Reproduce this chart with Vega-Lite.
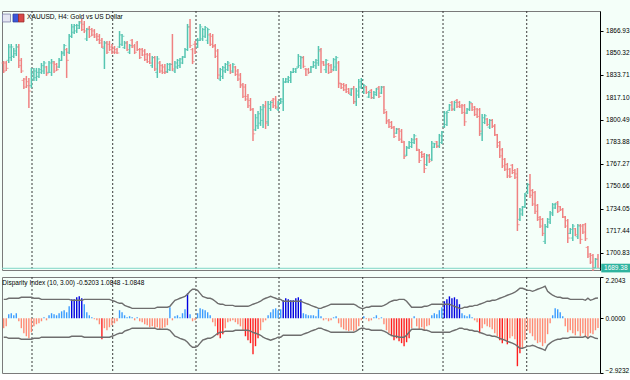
{
"$schema":"https://vega.github.io/schema/vega-lite/v6.json",
"padding":{"top":10,"left":0,"right":0,"bottom":0},
"background":"#F4FFF9",
"spacing":7,
"bounds":"flush",
"config":{"view":{"stroke":"#7a7a7a","strokeWidth":1,"fill":"#F4FFF9"},"font":"Liberation Sans","axis":{"labelOverlap":false}},
"datasets":{
"seps":[{"s":11.24},{"s":43.29},{"s":76.37},{"s":109.33},{"s":142.57},{"s":174.46},{"s":207.7}],
"ticks":[{"p":1866.93},{"p":1850.32},{"p":1833.71},{"p":1817.1},{"p":1800.49},{"p":1783.88},{"p":1767.27},{"p":1750.66},{"p":1734.05},{"p":1717.44},{"p":1700.83}],
"b":[
{"i":0,"o":1843,"h":1844.5,"l":1835.5,"c":1837,"v":-0.53,"u":1.01,"d":-1.01},
{"i":1,"o":1843,"h":1844.5,"l":1837,"c":1839,"v":-0.43,"u":1.01,"d":-1.01},
{"i":2,"o":1845,"h":1857.2,"l":1843,"c":1855,"v":0.21,"u":1.07,"d":-1.07},
{"i":3,"o":1847,"h":1857.2,"l":1844.5,"c":1855,"v":0.27,"u":1.07,"d":-1.07},
{"i":4,"o":1848,"h":1854.2,"l":1846.7,"c":1852,"v":0.16,"u":1.07,"d":-1.07},
{"i":5,"o":1850,"h":1857.2,"l":1848.2,"c":1855,"v":0.27,"u":1.07,"d":-1.07},
{"i":6,"o":1855,"h":1857.2,"l":1839.3,"c":1841,"v":-0.16,"u":1.07,"d":-1.07},
{"i":7,"o":1845,"h":1846.7,"l":1835.5,"c":1837,"v":-0.53,"u":1.12,"d":-1.12},
{"i":8,"o":1830,"h":1831.8,"l":1823.5,"c":1825,"v":-0.8,"u":1.12,"d":-1.12},
{"i":9,"o":1831,"h":1833.3,"l":1824.3,"c":1826,"v":-0.96,"u":1.12,"d":-1.12},
{"i":10,"o":1829,"h":1831.8,"l":1809.3,"c":1822,"v":-1.07,"u":1.12,"d":-1.12},
{"i":11,"o":1826,"h":1839.3,"l":1824.3,"c":1835,"v":-0.75,"u":1.12,"d":-1.12},
{"i":12,"o":1831,"h":1839.3,"l":1829.5,"c":1837,"v":-0.43,"u":1.07,"d":-1.07},
{"i":13,"o":1832,"h":1839.3,"l":1829.5,"c":1836,"v":-0.32,"u":1.07,"d":-1.07},
{"i":14,"o":1833,"h":1839.3,"l":1831.8,"c":1838,"v":-0.27,"u":1.07,"d":-1.07},
{"i":15,"o":1836,"h":1843,"l":1834.8,"c":1841,"v":-0.16,"u":1.01,"d":-1.01},
{"i":16,"o":1837,"h":1844.5,"l":1834.8,"c":1843,"v":0.05,"u":1.01,"d":-1.01},
{"i":17,"o":1840,"h":1840.8,"l":1833.3,"c":1835,"v":-0.11,"u":1.01,"d":-1.01},
{"i":18,"o":1836,"h":1844.5,"l":1835.5,"c":1843,"v":0.16,"u":1.01,"d":-1.01},
{"i":19,"o":1836,"h":1846,"l":1833.3,"c":1844,"v":0.27,"u":1.01,"d":-1.01},
{"i":20,"o":1843,"h":1844.5,"l":1835.5,"c":1837,"v":0.21,"u":1.01,"d":-1.01},
{"i":21,"o":1842,"h":1843,"l":1837,"c":1838,"v":0.16,"u":1.01,"d":-1.01},
{"i":22,"o":1840,"h":1846.7,"l":1839.3,"c":1845,"v":0.27,"u":1.01,"d":-1.01},
{"i":23,"o":1845,"h":1852,"l":1844.5,"c":1851,"v":0.37,"u":1.01,"d":-1.01},
{"i":24,"o":1850,"h":1857.2,"l":1848.2,"c":1856,"v":0.43,"u":1.01,"d":-1.01},
{"i":25,"o":1853,"h":1854.2,"l":1831.8,"c":1845,"v":0.32,"u":1.01,"d":-1.01},
{"i":26,"o":1851,"h":1864.7,"l":1849.7,"c":1863,"v":0.64,"u":1.01,"d":-1.01},
{"i":27,"o":1863,"h":1872.2,"l":1861.7,"c":1870,"v":1.01,"u":0.96,"d":-0.96},
{"i":28,"o":1866,"h":1872.2,"l":1864.7,"c":1871,"v":1.01,"u":0.96,"d":-0.96},
{"i":29,"o":1867,"h":1872.2,"l":1865.4,"c":1871,"v":1.12,"u":0.96,"d":-0.96},
{"i":30,"o":1869,"h":1874.4,"l":1868.4,"c":1873,"v":1.17,"u":0.96,"d":-0.96},
{"i":31,"o":1874,"h":1875.9,"l":1866.9,"c":1868,"v":1.07,"u":0.96,"d":-0.96},
{"i":32,"o":1872,"h":1874.4,"l":1865.4,"c":1867,"v":0.75,"u":1.01,"d":-1.01},
{"i":33,"o":1861,"h":1869.2,"l":1859.5,"c":1868,"v":0.32,"u":1.01,"d":-1.01},
{"i":34,"o":1869,"h":1870.7,"l":1861.7,"c":1863,"v":0.16,"u":1.01,"d":-1.01},
{"i":35,"o":1868,"h":1869.2,"l":1863.2,"c":1864,"v":0.05,"u":1.01,"d":-1.01},
{"i":36,"o":1867,"h":1868.4,"l":1861.7,"c":1862.5,"v":-0.05,"u":1.01,"d":-1.01},
{"i":37,"o":1864,"h":1865.4,"l":1859.5,"c":1860.5,"v":-0.11,"u":1.01,"d":-1.01},
{"i":38,"o":1863,"h":1864.7,"l":1857.2,"c":1858,"v":-0.32,"u":1.01,"d":-1.01},
{"i":39,"o":1860,"h":1861.7,"l":1854.2,"c":1855,"v":-1.12,"u":1.01,"d":-1.01},
{"i":40,"o":1854,"h":1859.5,"l":1838.5,"c":1858,"v":-0.53,"u":1.01,"d":-1.01},
{"i":41,"o":1858,"h":1859.5,"l":1849.7,"c":1851,"v":-0.64,"u":1.01,"d":-1.01},
{"i":42,"o":1857,"h":1859.5,"l":1852,"c":1853,"v":-0.48,"u":1.01,"d":-1.01},
{"i":43,"o":1855,"h":1857.2,"l":1849.7,"c":1851,"v":-0.37,"u":0.96,"d":-0.96},
{"i":44,"o":1854,"h":1855.7,"l":1849.7,"c":1851,"v":-0.27,"u":0.91,"d":-0.91},
{"i":45,"o":1853,"h":1854.2,"l":1849.7,"c":1850.5,"v":-0.16,"u":0.85,"d":-0.85},
{"i":46,"o":1855,"h":1866.9,"l":1854.2,"c":1864,"v":0.43,"u":0.8,"d":-0.8},
{"i":47,"o":1857,"h":1864.7,"l":1855.7,"c":1863,"v":0.32,"u":0.8,"d":-0.8},
{"i":48,"o":1854.5,"h":1859.5,"l":1853.5,"c":1858,"v":0.16,"u":0.69,"d":-0.69},
{"i":49,"o":1858,"h":1859.5,"l":1852,"c":1853,"v":0.05,"u":0.64,"d":-0.64},
{"i":50,"o":1851,"h":1857.2,"l":1849.7,"c":1856,"v":0.11,"u":0.59,"d":-0.59},
{"i":51,"o":1860,"h":1861,"l":1854.2,"c":1855,"v":0.05,"u":0.53,"d":-0.53},
{"i":52,"o":1856,"h":1857.2,"l":1849.7,"c":1851,"v":-0.11,"u":0.53,"d":-0.53},
{"i":53,"o":1858,"h":1859.5,"l":1852,"c":1853,"v":0.05,"u":0.53,"d":-0.53},
{"i":54,"o":1853,"h":1854.2,"l":1846,"c":1847,"v":-0.16,"u":0.53,"d":-0.53},
{"i":55,"o":1853,"h":1854.2,"l":1848.2,"c":1849,"v":-0.21,"u":0.53,"d":-0.53},
{"i":56,"o":1852,"h":1853.5,"l":1844.5,"c":1845.5,"v":-0.32,"u":0.53,"d":-0.53},
{"i":57,"o":1849.5,"h":1850.5,"l":1843,"c":1844,"v":-0.37,"u":0.53,"d":-0.53},
{"i":58,"o":1849,"h":1850.5,"l":1842.2,"c":1843,"v":-0.48,"u":0.53,"d":-0.53},
{"i":59,"o":1841,"h":1848.2,"l":1839.3,"c":1847,"v":-0.43,"u":0.53,"d":-0.53},
{"i":60,"o":1847,"h":1848.2,"l":1837,"c":1838.5,"v":-0.53,"u":0.53,"d":-0.53},
{"i":61,"o":1836,"h":1848.2,"l":1831.8,"c":1846,"v":-0.48,"u":0.59,"d":-0.59},
{"i":62,"o":1843,"h":1844.5,"l":1835.5,"c":1837,"v":-0.59,"u":0.59,"d":-0.59},
{"i":63,"o":1841,"h":1842.2,"l":1834.8,"c":1836,"v":-0.53,"u":0.59,"d":-0.59},
{"i":64,"o":1840,"h":1842.2,"l":1834.8,"c":1836,"v":-0.48,"u":0.59,"d":-0.59},
{"i":65,"o":1836.5,"h":1843,"l":1835.5,"c":1842,"v":-0.37,"u":0.59,"d":-0.59},
{"i":66,"o":1838,"h":1843,"l":1837,"c":1842,"v":0.59,"u":0.64,"d":-0.64},
{"i":67,"o":1842,"h":1864.7,"l":1837,"c":1838.5,"v":-0.11,"u":0.8,"d":-0.8},
{"i":68,"o":1837,"h":1844.5,"l":1835.5,"c":1843,"v":0.11,"u":0.96,"d":-0.96},
{"i":69,"o":1840,"h":1846,"l":1838.5,"c":1845,"v":0.16,"u":1.01,"d":-1.01},
{"i":70,"o":1841,"h":1846.7,"l":1839.3,"c":1846,"v":0.05,"u":1.07,"d":-1.07},
{"i":71,"o":1843,"h":1848.2,"l":1842.2,"c":1847.5,"v":0.27,"u":1.12,"d":-1.12},
{"i":72,"o":1847.5,"h":1854.2,"l":1846.7,"c":1853,"v":0.48,"u":1.17,"d":-1.17},
{"i":73,"o":1853,"h":1872.2,"l":1852,"c":1870,"v":1.33,"u":1.28,"d":-1.28},
{"i":74,"o":1870,"h":1875.9,"l":1854.2,"c":1856,"v":0.21,"u":1.44,"d":-1.44},
{"i":75,"o":1853,"h":1854.2,"l":1842.2,"c":1844,"v":-0.16,"u":1.55,"d":-1.55},
{"i":76,"o":1857,"h":1859.5,"l":1849.7,"c":1851,"v":-0.11,"u":1.55,"d":-1.55},
{"i":77,"o":1855,"h":1861.7,"l":1854.2,"c":1860,"v":0.27,"u":1.49,"d":-1.49},
{"i":78,"o":1860,"h":1872.2,"l":1859.5,"c":1870,"v":0.53,"u":1.33,"d":-1.33},
{"i":79,"o":1861,"h":1869.2,"l":1859.5,"c":1868,"v":0.48,"u":1.17,"d":-1.17},
{"i":80,"o":1863,"h":1870.7,"l":1861.7,"c":1869.5,"v":0.43,"u":1.12,"d":-1.12},
{"i":81,"o":1860,"h":1869.2,"l":1857.2,"c":1868,"v":0.32,"u":1.07,"d":-1.07},
{"i":82,"o":1864,"h":1865.4,"l":1855.7,"c":1857,"v":0.16,"u":1.07,"d":-1.07},
{"i":83,"o":1863,"h":1864.7,"l":1854.2,"c":1855.5,"v":-0.21,"u":1.01,"d":-1.01},
{"i":84,"o":1856,"h":1857.2,"l":1846.7,"c":1848,"v":-0.43,"u":0.91,"d":-0.91},
{"i":85,"o":1852,"h":1853.5,"l":1831,"c":1834,"v":-0.91,"u":0.8,"d":-0.8},
{"i":86,"o":1831,"h":1839.3,"l":1829.5,"c":1838,"v":-1.07,"u":0.75,"d":-0.75},
{"i":87,"o":1833,"h":1840.8,"l":1831,"c":1839.5,"v":-0.85,"u":0.75,"d":-0.75},
{"i":88,"o":1837,"h":1843,"l":1835.5,"c":1842,"v":-0.53,"u":0.69,"d":-0.69},
{"i":89,"o":1838,"h":1844.5,"l":1837,"c":1843,"v":-0.21,"u":0.69,"d":-0.69},
{"i":90,"o":1841,"h":1842.2,"l":1834.8,"c":1836,"v":-0.16,"u":0.69,"d":-0.69},
{"i":91,"o":1837,"h":1843,"l":1835.5,"c":1842,"v":-0.11,"u":0.69,"d":-0.69},
{"i":92,"o":1840,"h":1840.8,"l":1833.3,"c":1834.5,"v":-0.21,"u":0.64,"d":-0.64},
{"i":93,"o":1837,"h":1838.5,"l":1829.5,"c":1831,"v":-0.32,"u":0.64,"d":-0.64},
{"i":94,"o":1834,"h":1835.5,"l":1824.3,"c":1826,"v":-0.43,"u":0.64,"d":-0.64},
{"i":95,"o":1827,"h":1828,"l":1816.8,"c":1818,"v":-0.64,"u":0.64,"d":-0.64},
{"i":96,"o":1825,"h":1827.3,"l":1814.6,"c":1816,"v":-0.96,"u":0.64,"d":-0.64},
{"i":97,"o":1818,"h":1819.8,"l":1809.3,"c":1811,"v":-1.17,"u":0.64,"d":-0.64},
{"i":98,"o":1815,"h":1816.8,"l":1807.1,"c":1808.5,"v":-1.33,"u":0.69,"d":-0.69},
{"i":99,"o":1808,"h":1809.3,"l":1784.6,"c":1790,"v":-1.92,"u":0.75,"d":-0.75},
{"i":100,"o":1793,"h":1804.8,"l":1792.1,"c":1802,"v":-1.49,"u":0.8,"d":-0.8},
{"i":101,"o":1796,"h":1807.1,"l":1793.6,"c":1805,"v":-1.07,"u":0.85,"d":-0.85},
{"i":102,"o":1798,"h":1810.8,"l":1795.9,"c":1808,"v":-0.64,"u":0.91,"d":-0.91},
{"i":103,"o":1800,"h":1812.3,"l":1794.4,"c":1810,"v":-0.21,"u":1.01,"d":-1.01},
{"i":104,"o":1811,"h":1814.6,"l":1793.6,"c":1798,"v":-0.11,"u":1.07,"d":-1.07},
{"i":105,"o":1799,"h":1814.6,"l":1795.9,"c":1812,"v":0.16,"u":1.12,"d":-1.12},
{"i":106,"o":1809,"h":1814.6,"l":1807.1,"c":1813.5,"v":0.32,"u":1.17,"d":-1.17},
{"i":107,"o":1815,"h":1816.8,"l":1809.3,"c":1811,"v":0.48,"u":1.12,"d":-1.12},
{"i":108,"o":1816,"h":1818.3,"l":1808.6,"c":1810,"v":0.53,"u":1.07,"d":-1.07},
{"i":109,"o":1808.5,"h":1814.6,"l":1807.1,"c":1813,"v":0.43,"u":1.01,"d":-1.01},
{"i":110,"o":1813,"h":1816.8,"l":1812.3,"c":1816,"v":0.48,"u":1.01,"d":-1.01},
{"i":111,"o":1814,"h":1831.8,"l":1807.1,"c":1829,"v":0.96,"u":0.91,"d":-0.91},
{"i":112,"o":1828.5,"h":1831.8,"l":1828,"c":1831,"v":1.07,"u":0.91,"d":-0.91},
{"i":113,"o":1829,"h":1833.3,"l":1828,"c":1832,"v":1.01,"u":0.91,"d":-0.91},
{"i":114,"o":1830,"h":1837,"l":1828,"c":1836,"v":0.96,"u":0.91,"d":-0.91},
{"i":115,"o":1836,"h":1839.3,"l":1835.5,"c":1838.5,"v":0.96,"u":0.91,"d":-0.91},
{"i":116,"o":1836.5,"h":1839.3,"l":1835.5,"c":1839,"v":1.07,"u":0.91,"d":-0.91},
{"i":117,"o":1840,"h":1849.7,"l":1839.3,"c":1848,"v":1.12,"u":0.91,"d":-0.91},
{"i":118,"o":1841,"h":1848.2,"l":1838.5,"c":1847,"v":1.01,"u":0.91,"d":-0.91},
{"i":119,"o":1847,"h":1848.2,"l":1839.3,"c":1840.5,"v":0.27,"u":0.85,"d":-0.85},
{"i":120,"o":1838.5,"h":1839.3,"l":1833.3,"c":1834,"v":0.21,"u":0.8,"d":-0.8},
{"i":121,"o":1838,"h":1839.3,"l":1834.8,"c":1836,"v":0.16,"u":0.75,"d":-0.75},
{"i":122,"o":1836,"h":1840.8,"l":1835.5,"c":1840,"v":0.16,"u":0.69,"d":-0.69},
{"i":123,"o":1840,"h":1844.5,"l":1839.3,"c":1843.5,"v":0.16,"u":0.64,"d":-0.64},
{"i":124,"o":1841,"h":1846,"l":1838.5,"c":1845,"v":0.11,"u":0.59,"d":-0.59},
{"i":125,"o":1843,"h":1855.7,"l":1840.8,"c":1853,"v":0.48,"u":0.53,"d":-0.53},
{"i":126,"o":1852,"h":1854.2,"l":1835.5,"c":1843,"v":0.11,"u":0.53,"d":-0.53},
{"i":127,"o":1844,"h":1844.5,"l":1840.8,"c":1841.5,"v":-0.11,"u":0.59,"d":-0.59},
{"i":128,"o":1838,"h":1846,"l":1835.5,"c":1845,"v":-0.05,"u":0.64,"d":-0.64},
{"i":129,"o":1842,"h":1843,"l":1834.8,"c":1836,"v":-0.16,"u":0.69,"d":-0.69},
{"i":130,"o":1841,"h":1842.2,"l":1835.5,"c":1837,"v":-0.11,"u":0.75,"d":-0.75},
{"i":131,"o":1838,"h":1846.7,"l":1837,"c":1845.5,"v":0.05,"u":0.75,"d":-0.75},
{"i":132,"o":1840,"h":1848.2,"l":1837,"c":1847,"v":0.11,"u":0.75,"d":-0.75},
{"i":133,"o":1843,"h":1844.5,"l":1824.3,"c":1828,"v":-0.27,"u":0.75,"d":-0.75},
{"i":134,"o":1827.5,"h":1828,"l":1823.5,"c":1824.5,"v":-0.48,"u":0.75,"d":-0.75},
{"i":135,"o":1827,"h":1828,"l":1822,"c":1823,"v":-0.59,"u":0.75,"d":-0.75},
{"i":136,"o":1826,"h":1827.3,"l":1820.5,"c":1821.5,"v":-0.64,"u":0.75,"d":-0.75},
{"i":137,"o":1823.5,"h":1824.3,"l":1819.8,"c":1820.5,"v":-0.69,"u":0.75,"d":-0.75},
{"i":138,"o":1819.5,"h":1824.3,"l":1818.3,"c":1823.5,"v":-0.64,"u":0.75,"d":-0.75},
{"i":139,"o":1824,"h":1825.8,"l":1812.3,"c":1814,"v":-0.69,"u":0.75,"d":-0.75},
{"i":140,"o":1814,"h":1824.3,"l":1810.8,"c":1822,"v":-0.64,"u":0.69,"d":-0.69},
{"i":141,"o":1819,"h":1831,"l":1816.8,"c":1829,"v":-0.43,"u":0.59,"d":-0.59},
{"i":142,"o":1825,"h":1831.8,"l":1823.5,"c":1830.5,"v":-0.11,"u":0.53,"d":-0.53},
{"i":143,"o":1821,"h":1827.3,"l":1819.8,"c":1826,"v":0.11,"u":0.53,"d":-0.53},
{"i":144,"o":1825,"h":1825.8,"l":1819.8,"c":1821,"v":-0.05,"u":0.59,"d":-0.59},
{"i":145,"o":1817.5,"h":1822,"l":1816.8,"c":1821,"v":-0.16,"u":0.59,"d":-0.59},
{"i":146,"o":1822.5,"h":1823.5,"l":1816.1,"c":1817,"v":-0.11,"u":0.64,"d":-0.64},
{"i":147,"o":1817,"h":1822,"l":1816.1,"c":1821,"v":0.05,"u":0.64,"d":-0.64},
{"i":148,"o":1819.5,"h":1824.3,"l":1818.3,"c":1823.5,"v":0.16,"u":0.64,"d":-0.64},
{"i":149,"o":1824.5,"h":1825.8,"l":1816.8,"c":1818,"v":-0.05,"u":0.64,"d":-0.64},
{"i":150,"o":1820.5,"h":1825.8,"l":1819.8,"c":1825,"v":0.05,"u":0.64,"d":-0.64},
{"i":151,"o":1825,"h":1825.8,"l":1804.8,"c":1808,"v":-0.32,"u":0.69,"d":-0.69},
{"i":152,"o":1806,"h":1807.1,"l":1797.3,"c":1799,"v":-0.64,"u":0.75,"d":-0.75},
{"i":153,"o":1800,"h":1801.1,"l":1794.4,"c":1795.5,"v":-0.8,"u":0.85,"d":-0.85},
{"i":154,"o":1798.5,"h":1799.6,"l":1793.6,"c":1794.5,"v":-0.96,"u":0.91,"d":-0.91},
{"i":155,"o":1795,"h":1795.9,"l":1786.9,"c":1788,"v":-1.17,"u":0.96,"d":-0.96},
{"i":156,"o":1790.5,"h":1794.4,"l":1789.9,"c":1793.5,"v":-1.07,"u":0.96,"d":-0.96},
{"i":157,"o":1793.5,"h":1794.4,"l":1784.6,"c":1786,"v":-1.23,"u":1.01,"d":-1.01},
{"i":158,"o":1792,"h":1793.6,"l":1783.1,"c":1784.5,"v":-1.33,"u":1.01,"d":-1.01},
{"i":159,"o":1783.5,"h":1784.6,"l":1771.2,"c":1773,"v":-1.49,"u":1.01,"d":-1.01},
{"i":160,"o":1774,"h":1780.9,"l":1773.4,"c":1779.5,"v":-1.28,"u":0.91,"d":-0.91},
{"i":161,"o":1779.5,"h":1784.6,"l":1778.6,"c":1783.5,"v":-1.07,"u":0.75,"d":-0.75},
{"i":162,"o":1780.5,"h":1786.9,"l":1779.4,"c":1785.5,"v":-0.53,"u":0.59,"d":-0.59},
{"i":163,"o":1783.5,"h":1789.9,"l":1782.4,"c":1788.5,"v":0.11,"u":0.59,"d":-0.59},
{"i":164,"o":1786,"h":1786.9,"l":1777.1,"c":1778.5,"v":-0.43,"u":0.59,"d":-0.59},
{"i":165,"o":1777.5,"h":1778.6,"l":1768.2,"c":1770,"v":-0.59,"u":0.59,"d":-0.59},
{"i":166,"o":1776,"h":1777.1,"l":1771.9,"c":1773,"v":-0.48,"u":0.59,"d":-0.59},
{"i":167,"o":1774.5,"h":1775.6,"l":1760.7,"c":1764,"v":-0.64,"u":0.64,"d":-0.64},
{"i":168,"o":1767,"h":1774.9,"l":1765.9,"c":1773.5,"v":-0.43,"u":0.64,"d":-0.64},
{"i":169,"o":1774,"h":1774.9,"l":1768.2,"c":1769.5,"v":-0.37,"u":0.69,"d":-0.69},
{"i":170,"o":1771,"h":1784.6,"l":1769.7,"c":1783,"v":0.16,"u":0.75,"d":-0.75},
{"i":171,"o":1780,"h":1783.1,"l":1779.4,"c":1782.5,"v":0.27,"u":0.75,"d":-0.75},
{"i":172,"o":1784,"h":1784.6,"l":1779.4,"c":1780.5,"v":0.21,"u":0.75,"d":-0.75},
{"i":173,"o":1781,"h":1789.9,"l":1779.4,"c":1788.5,"v":0.43,"u":0.75,"d":-0.75},
{"i":174,"o":1783.5,"h":1792.1,"l":1782.4,"c":1791,"v":0.59,"u":0.75,"d":-0.75},
{"i":175,"o":1795.5,"h":1807.1,"l":1794.4,"c":1805.5,"v":0.91,"u":0.75,"d":-0.75},
{"i":176,"o":1797,"h":1807.1,"l":1795.9,"c":1806,"v":1.01,"u":0.75,"d":-0.75},
{"i":177,"o":1807.5,"h":1812.3,"l":1807.1,"c":1811.5,"v":1.17,"u":0.75,"d":-0.75},
{"i":178,"o":1813.5,"h":1814.6,"l":1807.1,"c":1808.5,"v":1.07,"u":0.69,"d":-0.69},
{"i":179,"o":1808.5,"h":1814.6,"l":1807.1,"c":1813.5,"v":1.12,"u":0.64,"d":-0.64},
{"i":180,"o":1815,"h":1816.1,"l":1809.3,"c":1810.5,"v":1.01,"u":0.59,"d":-0.59},
{"i":181,"o":1813.5,"h":1814.6,"l":1809.3,"c":1810,"v":0.75,"u":0.53,"d":-0.53},
{"i":182,"o":1811,"h":1812.3,"l":1804.8,"c":1806,"v":0.27,"u":0.53,"d":-0.53},
{"i":183,"o":1811,"h":1812.3,"l":1795.9,"c":1799,"v":0.16,"u":0.59,"d":-0.59},
{"i":184,"o":1805.5,"h":1809.3,"l":1804.8,"c":1808.5,"v":0.11,"u":0.59,"d":-0.59},
{"i":185,"o":1808,"h":1814.6,"l":1807.1,"c":1813.5,"v":0.21,"u":0.64,"d":-0.64},
{"i":186,"o":1812.5,"h":1813.1,"l":1807.1,"c":1808,"v":0.05,"u":0.64,"d":-0.64},
{"i":187,"o":1810,"h":1810.8,"l":1803.3,"c":1804.5,"v":-0.11,"u":0.69,"d":-0.69},
{"i":188,"o":1808.5,"h":1809.3,"l":1801.8,"c":1803,"v":-0.21,"u":0.69,"d":-0.69},
{"i":189,"o":1808,"h":1809.3,"l":1788.4,"c":1792,"v":-0.8,"u":0.75,"d":-0.75},
{"i":190,"o":1790,"h":1804.8,"l":1784.6,"c":1802,"v":-0.53,"u":0.8,"d":-0.8},
{"i":191,"o":1798.5,"h":1804.8,"l":1797.3,"c":1803.5,"v":-0.32,"u":0.85,"d":-0.85},
{"i":192,"o":1801,"h":1801.8,"l":1795.9,"c":1797,"v":-0.43,"u":0.91,"d":-0.91},
{"i":193,"o":1795,"h":1801.1,"l":1793.6,"c":1800,"v":-0.48,"u":0.91,"d":-0.91},
{"i":194,"o":1800,"h":1801.1,"l":1794.4,"c":1795.5,"v":-0.59,"u":0.96,"d":-0.96},
{"i":195,"o":1796,"h":1797.3,"l":1788.4,"c":1789.5,"v":-0.8,"u":0.96,"d":-0.96},
{"i":196,"o":1789,"h":1789.9,"l":1779.4,"c":1781,"v":-0.96,"u":1.01,"d":-1.01},
{"i":197,"o":1783.5,"h":1784.6,"l":1771.9,"c":1773.5,"v":-1.17,"u":1.07,"d":-1.07},
{"i":198,"o":1778,"h":1779.4,"l":1764.4,"c":1766,"v":-1.33,"u":1.12,"d":-1.12},
{"i":199,"o":1771,"h":1771.9,"l":1762.2,"c":1763.5,"v":-1.17,"u":1.17,"d":-1.17},
{"i":200,"o":1767,"h":1768.2,"l":1756.9,"c":1758.5,"v":-1.39,"u":1.23,"d":-1.23},
{"i":201,"o":1763.5,"h":1764.4,"l":1756.9,"c":1758,"v":-1.07,"u":1.28,"d":-1.28},
{"i":202,"o":1766.5,"h":1767.4,"l":1759.9,"c":1761,"v":-0.96,"u":1.33,"d":-1.33},
{"i":203,"o":1762.5,"h":1763.7,"l":1756.2,"c":1757.5,"v":-1.12,"u":1.39,"d":-1.39},
{"i":204,"o":1760,"h":1764.4,"l":1717.3,"c":1722,"v":-2.56,"u":1.49,"d":-1.49},
{"i":205,"o":1726,"h":1734.5,"l":1724.8,"c":1733,"v":-1.87,"u":1.6,"d":-1.6},
{"i":206,"o":1730,"h":1736,"l":1728.5,"c":1735,"v":-1.6,"u":1.6,"d":-1.6},
{"i":207,"o":1735.5,"h":1745.7,"l":1734.5,"c":1744.5,"v":-1.17,"u":1.55,"d":-1.55},
{"i":208,"o":1746,"h":1753.2,"l":1745,"c":1752,"v":-0.64,"u":1.49,"d":-1.49},
{"i":209,"o":1752,"h":1759.9,"l":1742,"c":1744,"v":-0.8,"u":1.49,"d":-1.49},
{"i":210,"o":1747.5,"h":1748.7,"l":1736,"c":1737.5,"v":-0.96,"u":1.44,"d":-1.44},
{"i":211,"o":1746,"h":1747.2,"l":1730,"c":1732,"v":-1.17,"u":1.49,"d":-1.49},
{"i":212,"o":1736.5,"h":1737.5,"l":1724.8,"c":1726,"v":-1.33,"u":1.55,"d":-1.55},
{"i":213,"o":1727.5,"h":1728.5,"l":1719.5,"c":1721,"v":-1.28,"u":1.6,"d":-1.6},
{"i":214,"o":1726,"h":1727,"l":1713.5,"c":1715.5,"v":-1.49,"u":1.65,"d":-1.65},
{"i":215,"o":1709.5,"h":1722.5,"l":1707.6,"c":1720.5,"v":-1.33,"u":1.71,"d":-1.71},
{"i":216,"o":1720.5,"h":1727,"l":1719.5,"c":1726,"v":-0.85,"u":1.44,"d":-1.44},
{"i":217,"o":1724,"h":1732.3,"l":1722.5,"c":1731,"v":-0.27,"u":1.33,"d":-1.33},
{"i":218,"o":1730,"h":1738.2,"l":1728.5,"c":1737,"v":0.16,"u":1.23,"d":-1.23},
{"i":219,"o":1734.5,"h":1738.2,"l":1733.8,"c":1737.5,"v":0.53,"u":1.17,"d":-1.17},
{"i":220,"o":1738.5,"h":1739.7,"l":1730.8,"c":1732,"v":0.48,"u":1.12,"d":-1.12},
{"i":221,"o":1735.5,"h":1736,"l":1732.3,"c":1733,"v":0.32,"u":1.12,"d":-1.12},
{"i":222,"o":1733.5,"h":1734.5,"l":1727,"c":1728,"v":0.11,"u":1.07,"d":-1.07},
{"i":223,"o":1727.5,"h":1728.5,"l":1719.5,"c":1721,"v":-0.43,"u":1.07,"d":-1.07},
{"i":224,"o":1725,"h":1726.3,"l":1708.3,"c":1712,"v":-0.75,"u":1.07,"d":-1.07},
{"i":225,"o":1715.5,"h":1719.5,"l":1715,"c":1718.5,"v":-0.64,"u":1.01,"d":-1.01},
{"i":226,"o":1712,"h":1722.5,"l":1709.8,"c":1721,"v":-0.8,"u":1.01,"d":-1.01},
{"i":227,"o":1719,"h":1719.5,"l":1713.5,"c":1714.5,"v":-0.91,"u":1.01,"d":-1.01},
{"i":228,"o":1713,"h":1722.5,"l":1711.3,"c":1721,"v":-0.69,"u":1.01,"d":-1.01},
{"i":229,"o":1721.5,"h":1722.5,"l":1707.6,"c":1711,"v":-0.96,"u":1.01,"d":-1.01},
{"i":230,"o":1721,"h":1722.5,"l":1715,"c":1716.5,"v":-0.8,"u":1.01,"d":-1.01},
{"i":231,"o":1722,"h":1723.3,"l":1709.8,"c":1711.5,"v":-0.96,"u":0.96,"d":-0.96},
{"i":232,"o":1705,"h":1706,"l":1697.1,"c":1698.5,"v":-1.07,"u":1.07,"d":-1.07},
{"i":233,"o":1700,"h":1700.8,"l":1692.6,"c":1694,"v":-0.8,"u":0.96,"d":-0.96},
{"i":234,"o":1699,"h":1700.1,"l":1687.4,"c":1689,"v":-0.85,"u":1.01,"d":-1.01},
{"i":235,"o":1690,"h":1697.1,"l":1689.6,"c":1696,"v":-0.64,"u":1.07,"d":-1.07},
{"i":236,"o":1696.5,"h":1700.1,"l":1689.6,"c":1689.38,"v":-0.5203,"u":1.0848,"d":-1.0848}
]},
"vconcat":[
{"width":598,"height":259,
"layer":[
{"data":{"name":"seps"},"mark":{"type":"rule","strokeDash":[2,2],"color":"#3a3a3a","strokeWidth":1},
 "encoding":{"x":{"field":"s","type":"quantitative","scale":{"domain":[-0.675,236.8]},"axis":null}}},
{"data":{"name":"b"},"mark":{"type":"rule","strokeWidth":1.5},
 "encoding":{"x":{"field":"i","type":"quantitative","scale":{"domain":[-0.675,236.8]},"axis":null},
  "y":{"field":"l","type":"quantitative","scale":{"domain":[1688.1,1881.9],"zero":false,"nice":false},
   "axis":{"orient":"right","title":null,"values":[1866.93,1850.32,1833.71,1817.1,1800.49,1783.88,1767.27,1750.66,1734.05,1717.44,1700.83],"labels":false,"grid":false,"domainColor":"#000000","tickColor":"#000000","tickSize":3}},
  "y2":{"field":"h"},
  "color":{"condition":{"test":"datum.c >= datum.o","value":"#55C5B1"},"value":"#F08282"}}},
{"data":{"name":"b"},"mark":{"type":"tick","orient":"horizontal","size":2,"thickness":1,"xOffset":-1.3},
 "encoding":{"x":{"field":"i","type":"quantitative","scale":{"domain":[-0.675,236.8]},"axis":null},
  "y":{"field":"o","type":"quantitative","scale":{"domain":[1688.1,1881.9],"zero":false,"nice":false},"title":null},
  "color":{"condition":{"test":"datum.c >= datum.o","value":"#55C5B1"},"value":"#F08282"}}},
{"data":{"name":"b"},"mark":{"type":"tick","orient":"horizontal","size":2,"thickness":1,"xOffset":1.3},
 "encoding":{"x":{"field":"i","type":"quantitative","scale":{"domain":[-0.675,236.8]},"axis":null},
  "y":{"field":"c","type":"quantitative","scale":{"domain":[1688.1,1881.9],"zero":false,"nice":false},"title":null},
  "color":{"condition":{"test":"datum.c >= datum.o","value":"#55C5B1"},"value":"#F08282"}}},
{"data":{"values":[{"p":1689.38}]},"mark":{"type":"rule","color":"#7FD6C6","strokeWidth":1},
 "encoding":{"y":{"field":"p","type":"quantitative","scale":{"domain":[1688.1,1881.9],"zero":false,"nice":false},"title":null}}},
{"data":{"name":"ticks"},"mark":{"type":"text","align":"left","baseline":"middle","fontSize":6.5,"color":"#000000","font":"Liberation Sans"},
 "encoding":{"x":{"datum":239.2,"type":"quantitative","scale":{"domain":[-0.675,236.8]},"axis":null},
  "y":{"field":"p","type":"quantitative","scale":{"domain":[1688.1,1881.9],"zero":false,"nice":false},"title":null},
  "text":{"field":"p","type":"quantitative","format":".2f"}}},
{"data":{"values":[{"p":1689.38}]},"mark":{"type":"rect","color":"#2FB49F","clip":false},
 "encoding":{"x":{"datum":237.3,"type":"quantitative","scale":{"domain":[-0.675,236.8]},"axis":null},"x2":{"datum":249.6},
  "y":{"datum":1692.8,"type":"quantitative","scale":{"domain":[1688.1,1881.9],"zero":false,"nice":false},"title":null},"y2":{"datum":1686.3}}},
{"data":{"values":[{"p":1689.38}]},"mark":{"type":"text","align":"left","baseline":"middle","fontSize":6.5,"color":"#FFFFFF","font":"Liberation Sans"},
 "encoding":{"x":{"datum":238.4,"type":"quantitative","scale":{"domain":[-0.675,236.8]},"axis":null},
  "y":{"field":"p","type":"quantitative","scale":{"domain":[1688.1,1881.9],"zero":false,"nice":false},"title":null},"text":{"field":"p","type":"quantitative","format":".2f"}}},
{"data":{"values":[{"k":"grid"}]},"mark":{"type":"rect","fill":"#E4E6F2","stroke":"#7C7FA8","strokeWidth":0.8},
 "encoding":{"x":{"datum":-0.48,"type":"quantitative","scale":{"domain":[-0.675,236.8]},"axis":null},"x2":{"datum":2.7},
  "y":{"datum":1879.6,"type":"quantitative","scale":{"domain":[1688.1,1881.9],"zero":false,"nice":false},"title":null},"y2":{"datum":1873.7}}},
{"data":{"values":[{"k":"blue"}]},"mark":{"type":"rect","fill":"#3B55D9","stroke":"#2A3A9A","strokeWidth":0.8},
 "encoding":{"x":{"datum":3.69,"type":"quantitative","scale":{"domain":[-0.675,236.8]},"axis":null},"x2":{"datum":5.88},
  "y":{"datum":1879.6,"type":"quantitative","scale":{"domain":[1688.1,1881.9],"zero":false,"nice":false},"title":null},"y2":{"datum":1873.7}}},
{"data":{"values":[{"k":"red"}]},"mark":{"type":"rect","fill":"#D94848","stroke":"#9A2A2A","strokeWidth":0.8},
 "encoding":{"x":{"datum":5.88,"type":"quantitative","scale":{"domain":[-0.675,236.8]},"axis":null},"x2":{"datum":8.06},
  "y":{"datum":1879.6,"type":"quantitative","scale":{"domain":[1688.1,1881.9],"zero":false,"nice":false},"title":null},"y2":{"datum":1873.7}}},
{"data":{"values":[{"t":"XAUUSD, H4:  Gold vs US Dollar"}]},"mark":{"type":"text","align":"left","baseline":"middle","fontSize":6.6,"color":"#000000","font":"Liberation Sans"},
 "encoding":{"x":{"datum":9.3,"type":"quantitative","scale":{"domain":[-0.675,236.8]},"axis":null},
  "y":{"datum":1877.2,"type":"quantitative","scale":{"domain":[1688.1,1881.9],"zero":false,"nice":false},"title":null},"text":{"field":"t"}}}
]},
{"width":598,"height":96,
"layer":[
{"data":{"name":"seps"},"mark":{"type":"rule","strokeDash":[2,2],"color":"#3a3a3a","strokeWidth":1},
 "encoding":{"x":{"field":"s","type":"quantitative","scale":{"domain":[-0.675,236.8]},"axis":null}}},
{"data":{"name":"b"},"mark":{"type":"rule","strokeWidth":1.4},
 "encoding":{"x":{"field":"i","type":"quantitative","scale":{"domain":[-0.675,236.8]},"axis":null},
  "y":{"field":"v","type":"quantitative","scale":{"domain":[-2.9232,2.2043],"zero":false,"nice":false},
   "axis":{"orient":"right","title":null,"values":[2.2043,0,-2.9232],"format":".4f","grid":false,"labelOverlap":false,"domainColor":"#000000","tickColor":"#000000","tickSize":3,"labelFontSize":6.5,"labelColor":"#000000","labelPadding":2,"labelFlush":true,"labelFont":"Liberation Sans"}},
  "y2":{"datum":0},
  "color":{"condition":[{"test":"datum.v > datum.u","value":"#0000E0"},{"test":"datum.v >= 0","value":"#3A9BFF"},{"test":"datum.v < datum.d","value":"#FF1E1E"}],"value":"#FF8A74"}}},
{"data":{"name":"b"},"mark":{"type":"line","color":"#6E6E6E","strokeWidth":1.4},
 "encoding":{"x":{"field":"i","type":"quantitative","scale":{"domain":[-0.675,236.8]},"axis":null},
  "y":{"field":"u","type":"quantitative","scale":{"domain":[-2.9232,2.2043],"zero":false,"nice":false},"title":null}}},
{"data":{"name":"b"},"mark":{"type":"line","color":"#6E6E6E","strokeWidth":1.4},
 "encoding":{"x":{"field":"i","type":"quantitative","scale":{"domain":[-0.675,236.8]},"axis":null},
  "y":{"field":"d","type":"quantitative","scale":{"domain":[-2.9232,2.2043],"zero":false,"nice":false},"title":null}}},
{"data":{"values":[{"t":"Disparity Index (10, 3.00) -0.5203 1.0848 -1.0848"}]},"mark":{"type":"text","align":"left","baseline":"middle","fontSize":6.5,"color":"#000000","font":"Liberation Sans"},
 "encoding":{"x":{"datum":-0.55,"type":"quantitative","scale":{"domain":[-0.675,236.8]},"axis":null},
  "y":{"datum":1.9,"type":"quantitative","scale":{"domain":[-2.9232,2.2043],"zero":false,"nice":false},"title":null},"text":{"field":"t"}}}
]}
]
}
